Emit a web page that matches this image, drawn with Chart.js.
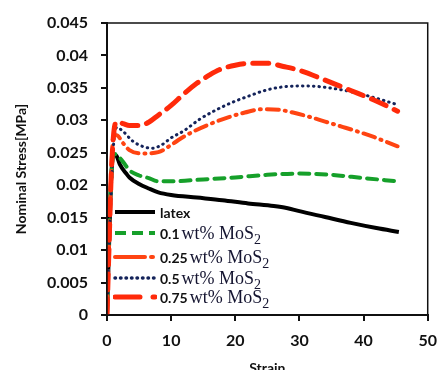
<!DOCTYPE html>
<html>
<head>
<meta charset="utf-8">
<script src="https://cdn.jsdelivr.net/npm/chart.js@4"></script>
<style>
  body { margin: 0; background: #fff; }
  #wrap { position: relative; width: 447px; height: 370px; }
  #legend { position: absolute; left: 0; top: 0; width: 447px; height: 370px; pointer-events: none; }
  .row { position: absolute; left: 113px; height: 20px; display: flex; align-items: center; white-space: nowrap; }
  .row svg { display: block; margin-right: 3px; }
  .num { font-family: Lato, sans-serif; font-weight: bold; font-size: 14px; color: #111; }
  .ser { font-family: "Liberation Serif", serif; font-size: 18px; color: #141430; margin-left: 2px; }
  .ser sub { font-size: 14px; vertical-align: -5px; line-height: 0; }
</style>
</head>
<body>
<div id="wrap">
  <canvas id="chart" width="447" height="370"></canvas>
  <div id="legend"></div>
</div>
<script>
const labels = ["latex", "0.1", "0.25", "0.5", "0.75"];

const latexStrain = [0, 0.3, 0.6, 1, 1.5, 2, 3, 3.5, 5, 6.5, 8, 10, 14, 18, 22, 26, 28, 30, 34, 38, 42, 45.5];
const latexStress = [0, 0.010, 0.020, 0.0248, 0.0245, 0.0232, 0.0218, 0.0212, 0.0202, 0.0195, 0.0189, 0.0185, 0.0181, 0.0177, 0.0172, 0.0168, 0.0165, 0.0160, 0.0151, 0.0142, 0.0134, 0.0128];

const wt01Strain = [0, 0.3, 0.6, 1, 1.5, 2.5, 3.5, 5, 6.5, 8, 10, 15, 20, 25, 30, 35, 40, 45.3];
const wt01Stress = [0, 0.012, 0.020, 0.0248, 0.0247, 0.0236, 0.0223, 0.0215, 0.0211, 0.0206, 0.0206, 0.0209, 0.0212, 0.0216, 0.0218, 0.0216, 0.0211, 0.0206];

const wt025Strain = [0, 0.3, 0.6, 1, 1.5, 2.5, 3.5, 5.4, 8, 10, 11.5, 13.5, 15.5, 19, 21.5, 24, 27, 29, 31.7, 34, 36.7, 39, 41.7, 43.5, 45.3];
const wt025Stress = [0, 0.010, 0.020, 0.0276, 0.0277, 0.0265, 0.0254, 0.0249, 0.0251, 0.0262, 0.0272, 0.0283, 0.0292, 0.0305, 0.0312, 0.0317, 0.0316, 0.0312, 0.0305, 0.0298, 0.0290, 0.0283, 0.0274, 0.0267, 0.0260];

const wt05Strain = [0, 0.3, 0.7, 1, 1.5, 2.5, 4, 5.5, 7, 8.5, 10, 12, 14.5, 17, 19.6, 22, 24.6, 27, 30, 33, 36, 39, 42, 45.3];
const wt05Stress = [0, 0.010, 0.020, 0.026, 0.0289, 0.0283, 0.0268, 0.0260, 0.0257, 0.0262, 0.0273, 0.0284, 0.0302, 0.0316, 0.0328, 0.0337, 0.0346, 0.0351, 0.0353, 0.0352, 0.0348, 0.0342, 0.0334, 0.0324];

const wt075Strain = [0, 0.3, 0.6, 1, 1.5, 2.5, 3.5, 5, 6.5, 8, 10, 12, 14, 16, 17.5, 20, 22.6, 25, 27.5, 30, 34, 38, 41.7, 45.3];
const wt075Stress = [0, 0.010, 0.020, 0.0275, 0.0298, 0.0295, 0.0292, 0.0292, 0.0297, 0.0308, 0.0323, 0.0341, 0.0357, 0.0370, 0.0378, 0.0385, 0.0388, 0.0388, 0.0383, 0.0377, 0.0362, 0.0346, 0.0331, 0.0314];

const yTicks = [0, 0.005, 0.01, 0.015, 0.02, 0.025, 0.03, 0.035, 0.04, 0.045];

const tickFont = { family: "Lato, sans-serif", size: 16, weight: "bold" };
const titleFont = { family: "Lato, sans-serif", size: 14, weight: "bold" };

function pts(xs, ys) {
  return xs.map((x, i) => ({ x, y: ys[i] }));
}

function series(label, xs, ys, color, width, dash, order) {
  return {
    label,
    data: pts(xs, ys),
    borderColor: color,
    borderWidth: width,
    borderDash: dash,
    borderCapStyle: dash.length ? "round" : "butt",
    pointRadius: 0,
    cubicInterpolationMode: "monotone",
    fill: false,
    order,
  };
}

const datasets = [
  series(labels[0], latexStrain, latexStress, "#000000", 4, [], 5),
  series(labels[1], wt01Strain, wt01Stress, "#16a02a", 4, [10, 7], 4),
  series(labels[2], wt025Strain, wt025Stress, "#ff4412", 4, [12, 6, 1, 6], 3),
  series(labels[3], wt05Strain, wt05Stress, "#14235a", 3, [0.5, 5], 2),
  series(labels[4], wt075Strain, wt075Stress, "#ff2a0a", 5, [16, 9], 1),
];

const boxPlugin = {
  id: "box",
  afterDatasetsDraw(chart) {
    const { ctx, chartArea: a } = chart;
    ctx.save();
    ctx.strokeStyle = "#111";
    ctx.lineWidth = 1.5;
    ctx.strokeRect(a.left, a.top, a.right - a.left, a.bottom - a.top);
    ctx.restore();
  },
};

new Chart(document.getElementById("chart"), {
  type: "line",
  data: { datasets },
  plugins: [boxPlugin],
  options: {
    responsive: false,
    animation: false,
    layout: { padding: { top: 23, right: 9, left: 0, bottom: 0 } },
    plugins: { legend: { display: false }, tooltip: { enabled: false } },
    scales: {
      x: {
        type: "linear",
        min: 0,
        max: 50,
        ticks: { stepSize: 10, color: "#111", font: tickFont, padding: 10 },
        grid: { drawOnChartArea: false, tickLength: 6, color: "#111", lineWidth: 2 },
        border: { color: "#111", width: 2 },
        title: { display: true, text: "Strain", color: "#111", font: titleFont, padding: { top: 0, bottom: -7 } },
        afterFit: (s) => { s.height = 55; },
      },
      y: {
        min: 0,
        max: 0.045,
        afterBuildTicks: (s) => { s.ticks = yTicks.map((v) => ({ value: v })); },
        ticks: {
          color: "#111",
          font: tickFont,
          padding: 13,
          callback: (v) => (v === 0 ? "0" : String(+v.toFixed(3))),
        },
        grid: { drawOnChartArea: false, tickLength: 6, color: "#111", lineWidth: 2 },
        border: { color: "#111", width: 2 },
        title: { display: true, text: "Nominal Stress[MPa]", color: "#111", font: titleFont, padding: { top: 13, bottom: 0 } },
        afterFit: (s) => { s.width = 107; },
      },
    },
  },
});

// legend drawn as html so the subscript stays real text
const legendRows = [
  { top: 202, dash: "", color: "#000", width: 4, cap: "butt" },
  { top: 223, dash: "11 6", color: "#16a02a", width: 4, cap: "butt" },
  { top: 247, dash: "30 6 2 8", color: "#ff4412", width: 4, cap: "round" },
  { top: 268, dash: "0.5 5", color: "#14235a", width: 3.5, cap: "round" },
  { top: 287, dash: "25 13 2 8", color: "#ff2a0a", width: 5, cap: "round" },
];

const legendEl = document.getElementById("legend");
legendRows.forEach((r, i) => {
  const row = document.createElement("div");
  row.className = "row";
  row.style.top = r.top + "px";
  const svg = `<svg width="44" height="20"><line x1="2" y1="10" x2="42" y2="10" stroke="${r.color}" stroke-width="${r.width}" stroke-linecap="${r.cap}" stroke-dasharray="${r.dash}"/></svg>`;
  const text = i === 0
    ? `<span class="num">${labels[i]}</span>`
    : `<span class="num">${labels[i]}</span><span class="ser">wt% MoS<sub>2</sub></span>`;
  row.innerHTML = svg + text;
  legendEl.appendChild(row);
});
</script>
</body>
</html>
